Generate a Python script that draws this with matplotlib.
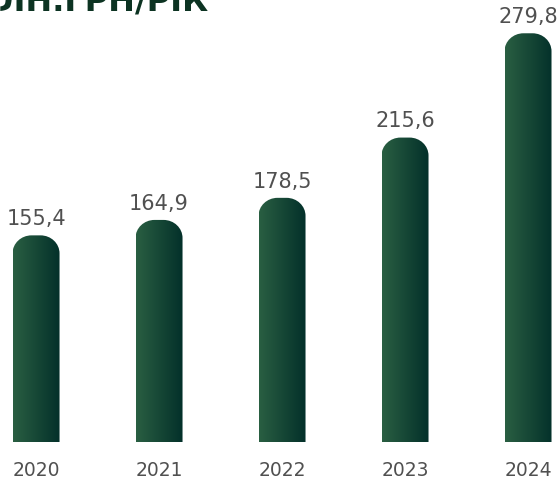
import numpy as np
import matplotlib
matplotlib.use("Agg")
import matplotlib.pyplot as plt
from matplotlib.path import Path
from matplotlib.patches import PathPatch
from matplotlib.colors import LinearSegmentedColormap

years = ["2020", "2021", "2022", "2023", "2024"]
values = [155.4, 164.9, 178.5, 215.6, 279.8]
title = "МЛН.ГРН/РІК"

W, H, DPI = 559, 481, 100
plt.rcParams["font.family"] = ["DejaVu Sans"]

fig = plt.figure(figsize=(W / DPI, H / DPI), dpi=DPI)
bottom_px = 38
ax = fig.add_axes([0, bottom_px / H, 1, 1 - bottom_px / H])
xlim = (-0.293, 4.252)
ylim = (28.2, 300.9)

# pixel scales for the rounded caps
px_x = W / (xlim[1] - xlim[0])
px_y = (H - bottom_px) / (ylim[1] - ylim[0])
hw = 23.5 / px_x          # half bar width
rx = 19 / px_x            # corner radii
ry = 18 / px_y

cmap = LinearSegmentedColormap.from_list("g", ["#2a5f42", "#03302a"])
grad = np.linspace(0, 1, 256).reshape(1, -1)

x = np.arange(len(values))
k = 0.5523
for xi, v in zip(x, values):
    l, r, b, t = xi - hw, xi + hw, 0, v
    verts = [
        (l, b), (l, t - ry),
        (l, t - ry + k * ry), (l + rx - k * rx, t), (l + rx, t),
        (r - rx, t),
        (r - rx + k * rx, t), (r, t - ry + k * ry), (r, t - ry),
        (r, b), (l, b),
    ]
    codes = [Path.MOVETO, Path.LINETO,
             Path.CURVE4, Path.CURVE4, Path.CURVE4,
             Path.LINETO,
             Path.CURVE4, Path.CURVE4, Path.CURVE4,
             Path.LINETO, Path.CLOSEPOLY]
    patch = PathPatch(Path(verts, codes), facecolor="none", edgecolor="none")
    ax.add_patch(patch)
    im = ax.imshow(grad, cmap=cmap, aspect="auto", extent=[l, r, b, t],
                   interpolation="bicubic", zorder=2)
    im.set_clip_path(patch)
    ax.annotate(f"{v:.1f}".replace(".", ","), xy=(xi, v), xytext=(0, 8),
                textcoords="offset points", ha="center", va="baseline",
                fontsize=15, color="#505050")

ax.set_xlim(*xlim)
ax.set_ylim(*ylim)
ax.set_xticks(x, years)
ax.tick_params(axis="x", length=0, pad=13, labelsize=13.5, labelcolor="#505050")
ax.set_yticks([])
for s in ax.spines.values():
    s.set_visible(False)

fig.text(208 / W, 1 - 11 / H, title, ha="right", va="baseline",
         fontsize=23, fontweight="bold", color="#0c3322")

fig.savefig("out.png", dpi=DPI)
